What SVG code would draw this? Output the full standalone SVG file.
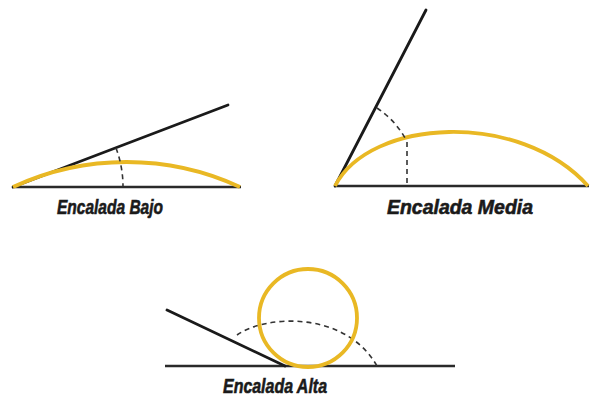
<svg xmlns="http://www.w3.org/2000/svg" width="590" height="398" viewBox="0 0 590 398">
<style>
.base{stroke:#2a2a2a;stroke-width:2.5;fill:none}
.rod{stroke:#1a1a1a;stroke-width:2.8;fill:none;stroke-linecap:round}
.yel{stroke:#E9B824;stroke-width:3.8;fill:none}
.dash{stroke:#333;stroke-width:1.6;fill:none;stroke-dasharray:5 4}
.lbl{font-family:"Liberation Sans",Arial,sans-serif;font-weight:bold;font-style:italic;font-size:20px;fill:#1a1a1a;stroke:#1a1a1a;stroke-width:0.6}
</style>
<rect width="590" height="398" fill="#fff"/>
<g id="bajo">
<line class="base" x1="12" y1="187" x2="241" y2="187"/>
<line class="rod" x1="13" y1="187" x2="228" y2="105"/>
<path class="yel" d="M13,187 A270,270 0 0 1 240,187"/>
<path class="dash" d="M116,148 A110,110 0 0 1 123,186"/>
<text class="lbl" x="57" y="214" textLength="106" lengthAdjust="spacingAndGlyphs">Encalada Bajo</text>
</g>
<g id="media">
<line class="base" x1="334" y1="186" x2="589" y2="186"/>
<line class="rod" x1="335" y1="186" x2="426" y2="10"/>
<path class="yel" d="M335,186 C370,118 520,110 588,186"/>
<path class="dash" d="M377,108 A88,88 0 0 1 405,138"/>
<line class="dash" x1="407" y1="142" x2="407" y2="186"/>
<text class="lbl" x="387" y="214" textLength="146" lengthAdjust="spacingAndGlyphs">Encalada Media</text>
</g>
<g id="alta">
<line class="base" x1="165" y1="366" x2="455" y2="366"/>
<line class="rod" x1="167" y1="310" x2="285" y2="366"/>
<path class="dash" d="M237,335 C265,315 345,310 377,366"/>
<circle class="yel" cx="308" cy="318" r="49"/>
<text class="lbl" x="223" y="393" textLength="104" lengthAdjust="spacingAndGlyphs">Encalada Alta</text>
</g>
</svg>
